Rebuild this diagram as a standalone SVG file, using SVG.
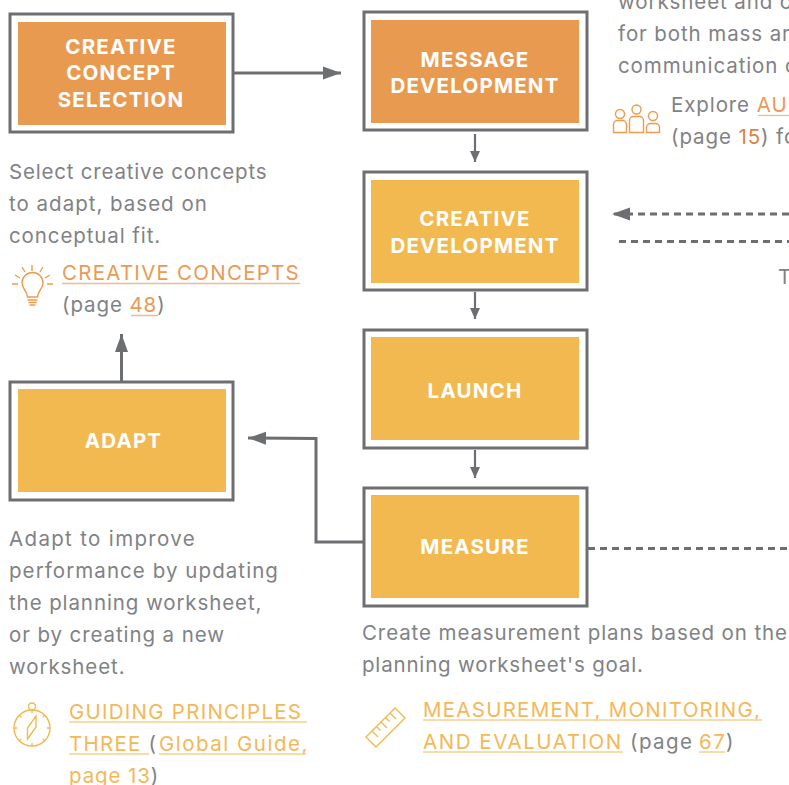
<svg xmlns="http://www.w3.org/2000/svg" width="789" height="785" viewBox="0 0 789 785">
<style>
.box{fill:#fff;stroke:#6d6e71;stroke-width:3}
.o{fill:#e89b50}.y{fill:#f2b950}
.nl{font:700 20.500px Inter,"Liberation Sans",sans-serif;fill:#fff;text-anchor:middle;letter-spacing:1.200px}
.t{font:400 20.500px Inter,"Liberation Sans",sans-serif;fill:#808285;letter-spacing:.9px}
.cap{letter-spacing:1.250px}
.lo{fill:#ea9a56}.ly{fill:#f4b859}.lr{fill:#e07f45}
.ul{stroke-width:1.300;fill:none}
.ulo{stroke:#f0b98a}.uly{stroke:#f8d190}
.c{fill:none;stroke:#6d6e71;stroke-width:3}
.thin{stroke-width:2.200}
.d{stroke-dasharray:7 5}
.io{fill:none;stroke:#ee9b4e;stroke-width:1.400}
.iy{fill:none;stroke:#f2b950;stroke-width:1.400}
</style>
<defs>
<marker id="a" markerUnits="userSpaceOnUse" markerWidth="20" markerHeight="16" refX="18" refY="7" orient="auto"><path d="M0 0.500L18 7L0 13.500Z" fill="#6d6e71"/></marker>
<marker id="s" markerUnits="userSpaceOnUse" markerWidth="14" markerHeight="12" refX="11" refY="5.500" orient="auto"><path d="M0 0.500L11 5.500L0 10.500Z" fill="#6d6e71"/></marker>
</defs>
<g id="connectors">
<path class="c" d="M234 73H341" marker-end="url(#a)"/>
<path class="c thin" d="M475 134V162" marker-end="url(#s)"/>
<path class="c thin" d="M475 292V319" marker-end="url(#s)"/>
<path class="c thin" d="M475 450V478" marker-end="url(#s)"/>
<path class="c" d="M121.500 381V334" marker-end="url(#a)"/>
<path class="c" d="M363 542H316V438.500L248 438" marker-end="url(#a)"/>
<path class="c d" d="M789 214H612" marker-end="url(#a)"/>
<path class="c d" d="M619 241.500H789"/>
<path class="c d" d="M588 548.500H789"/>
</g>
<g id="creative-concept-selection"><rect class="box" x="10" y="14" width="223" height="118"/><rect class="o" x="18" y="22" width="208" height="103"/><text class="nl"><tspan x="121" y="54">CREATIVE</tspan><tspan x="121" y="80">CONCEPT</tspan><tspan x="121" y="107">SELECTION</tspan></text></g>
<g id="message-development"><rect class="box" x="364" y="12" width="223" height="118"/><rect class="o" x="371" y="20" width="208" height="103"/><text class="nl"><tspan x="475" y="67">MESSAGE</tspan><tspan x="475" y="93">DEVELOPMENT</tspan></text></g>
<g id="creative-development"><rect class="box" x="364" y="172" width="223" height="118"/><rect class="y" x="371" y="180" width="208" height="103"/><text class="nl"><tspan x="475" y="226">CREATIVE</tspan><tspan x="475" y="253">DEVELOPMENT</tspan></text></g>
<g id="launch"><rect class="box" x="364" y="330" width="223" height="118"/><rect class="y" x="371" y="337" width="208" height="103"/><text class="nl" x="475" y="398">LAUNCH</text></g>
<g id="measure"><rect class="box" x="364" y="488" width="223" height="118"/><rect class="y" x="371" y="495" width="208" height="103"/><text class="nl" x="475" y="554">MEASURE</text></g>
<g id="adapt"><rect class="box" x="10" y="382" width="223" height="118"/><rect class="y" x="18" y="389" width="208" height="103"/><text class="nl" x="123.500" y="448">ADAPT</text></g>
<g id="left-top-text"><text class="t"><tspan x="9" y="179" letter-spacing=".8">Select creative concepts</tspan><tspan x="9" y="211" letter-spacing="1">to adapt, based on</tspan><tspan x="9" y="243">conceptual fit.</tspan></text>
<text class="t lo cap" x="62" y="280">CREATIVE CONCEPTS</text><text class="t" x="62" y="312" letter-spacing="1.100">(page <tspan class="lo">48</tspan>)</text>
<path class="ul ulo" d="M62 283.500H300M131 315.500H158"/>
<g class="io"><path d="M27.500 297c0-6-5.500-8-5.500-14a10.500 10.500 0 0 1 21 0c0 6-5.500 8-5.500 14zM27.500 300h10M28.500 302.500h8M29.500 305h6M32 265v6M22 267l3 5M43 267l-3 5M15 275l5 3M50 275l-5 3M12 284h6M47 284h6"/></g></g>
<g id="left-bottom-text"><text class="t"><tspan x="9" y="546" letter-spacing="1.340">Adapt to improve</tspan><tspan x="9" y="578" letter-spacing="1.070">performance by updating</tspan><tspan x="9" y="610">the planning worksheet,</tspan><tspan x="9" y="642">or by creating a new</tspan><tspan x="9" y="674">worksheet.</tspan></text>
<text class="t ly cap" x="69" y="719">GUIDING PRINCIPLES</text><text class="t" x="69" y="751"><tspan class="ly cap">THREE </tspan>(<tspan class="ly" x="159" letter-spacing="1.500">Global Guide,</tspan></text><text class="t" x="69" y="783"><tspan class="ly">page 13</tspan>)</text>
<path class="ul uly" d="M69 722H307M69 754H149M159 754H306"/>
<g class="iy"><circle cx="32" cy="728" r="18"/><circle cx="32" cy="706.500" r="3.500"/><path d="M36 716V727L27.500 739V728ZM32 710v3M32 743v3M14 728h3M47 728h3M19 715l2 2M45 715l-2 2M19 741l2-2M45 741l-2-2"/></g></g>
<g id="measure-text"><text class="t"><tspan x="362" y="640">Create measurement plans based on the</tspan><tspan x="362" y="672" letter-spacing=".82">planning worksheet's goal.</tspan></text>
<text class="t ly cap" x="423" y="717">MEASUREMENT, MONITORING,</text><text class="t" x="423" y="749"><tspan class="ly" letter-spacing="1.550">AND EVALUATION</tspan><tspan x="630" letter-spacing="1.400">(page </tspan><tspan class="ly" x="699" letter-spacing="1.500">67</tspan><tspan x="726">)</tspan></text>
<path class="ul uly" d="M423 720H762M423 752H623M699 752H725"/>
<g class="iy"><path d="M366 737L395 708L405 718L376 747ZM372 731l6 6M376.500 726.500l4 4M381 722l6 6M385.500 717.500l4 4M390 713l6 6"/></g></g>
<g id="right-text"><text class="t"><tspan x="618" y="9">worksheet and c</tspan><tspan x="618" y="41">for both mass ar</tspan><tspan x="618" y="73">communication c</tspan></text>
<text class="t" x="671" y="112">Explore <tspan class="lo cap">AU</tspan></text><text class="t" x="671" y="144">(page <tspan class="lr">15</tspan>) fo</text>
<path class="ul ulo" d="M758 115.500H789"/>
<text class="t" x="778" y="284">T</text>
<g class="io"><circle cx="620" cy="114" r="4.500"/><circle cx="636.500" cy="109.500" r="4.500"/><circle cx="653" cy="116" r="4.500"/><path d="M613.500 132.500v-8a4 4 0 0 1 4-4h5a4 4 0 0 1 4 4v8zM629.500 132.500v-12a4 4 0 0 1 4-4h6a4 4 0 0 1 4 4v12zM646.500 132.500v-5a4 4 0 0 1 4-4h5a4 4 0 0 1 4 4v5z"/></g></g>
</svg>
